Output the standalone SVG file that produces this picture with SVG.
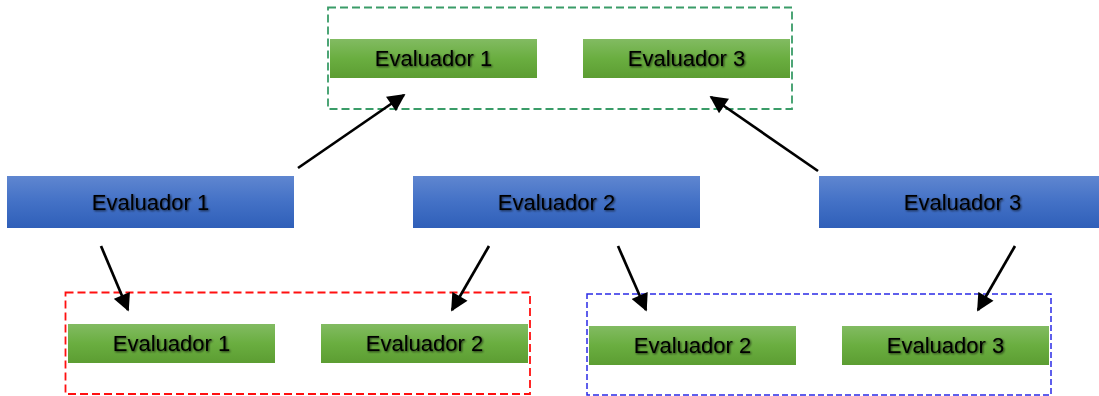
<svg xmlns="http://www.w3.org/2000/svg" width="1099" height="396" viewBox="0 0 1099 396">
<style>
.lbl{font-family:"Liberation Sans",Arial,sans-serif;font-size:22px;fill:#000;text-anchor:middle;dominant-baseline:central;filter:url(#glow)}
.conn{stroke:#000;stroke-width:2.7;fill:none;marker-end:url(#ah)}
.g{fill:url(#gGreen)}
.b{fill:url(#gBlue)}
</style>
<defs>
<linearGradient id="gGreen" x1="0" y1="0" x2="0" y2="1">
<stop offset="0" stop-color="#82bb62"/>
<stop offset="0.5" stop-color="#6aae40"/>
<stop offset="1" stop-color="#5c9d32"/>
</linearGradient>
<linearGradient id="gBlue" x1="0" y1="0" x2="0" y2="1">
<stop offset="0" stop-color="#5f86d0"/>
<stop offset="0.5" stop-color="#4371c6"/>
<stop offset="1" stop-color="#2f5fb9"/>
</linearGradient>
<filter id="glow" x="-10%" y="-30%" width="120%" height="160%">
<feGaussianBlur in="SourceAlpha" stdDeviation="1.2" result="b"/>
<feOffset in="b" dx="0.8" dy="0.8" result="o"/>
<feComponentTransfer in="o" result="s"><feFuncA type="linear" slope="0.7"/></feComponentTransfer>
<feMerge><feMergeNode in="s"/><feMergeNode in="SourceGraphic"/></feMerge>
</filter>
<marker id="ah" viewBox="0 0 10 10" refX="9" refY="5" markerWidth="7" markerHeight="6.5" markerUnits="strokeWidth" orient="auto">
<path d="M0,0 L10,5 L0,10 Z" fill="#000"/>
</marker>
</defs>
<g id="groups">
<rect id="grpTop" x="328" y="7.5" width="464" height="101.5" fill="none" stroke="#3a9c68" stroke-width="1.8" stroke-dasharray="8,4"/>
<rect id="grpRed" x="65.5" y="292.5" width="464.5" height="101.5" fill="none" stroke="#ff1010" stroke-width="1.8" stroke-dasharray="8,4"/>
<rect id="grpBlue" x="587" y="294" width="464" height="101" fill="none" stroke="#2a2ae6" stroke-width="1.5" stroke-dasharray="6,3"/>
</g>
<g id="nodeTop1"><rect class="g" x="330" y="39" width="207" height="39"/><text class="lbl" x="433.5" y="58.5">Evaluador 1</text></g>
<g id="nodeTop3"><rect class="g" x="583" y="39" width="207" height="39"/><text class="lbl" x="686.5" y="58.5">Evaluador 3</text></g>
<g id="nodeMid1"><rect class="b" x="7" y="176" width="287" height="52"/><text class="lbl" x="150.5" y="202">Evaluador 1</text></g>
<g id="nodeMid2"><rect class="b" x="413" y="176" width="287" height="52"/><text class="lbl" x="556.5" y="202">Evaluador 2</text></g>
<g id="nodeMid3"><rect class="b" x="819" y="176" width="287" height="52"/><text class="lbl" x="962.5" y="202">Evaluador 3</text></g>
<g id="nodeRed1"><rect class="g" x="68" y="324" width="207" height="39"/><text class="lbl" x="171.5" y="343.5">Evaluador 1</text></g>
<g id="nodeRed2"><rect class="g" x="321" y="324" width="207" height="39"/><text class="lbl" x="424.5" y="343.5">Evaluador 2</text></g>
<g id="nodeBlue2"><rect class="g" x="589" y="326" width="207" height="39"/><text class="lbl" x="692.5" y="345.5">Evaluador 2</text></g>
<g id="nodeBlue3"><rect class="g" x="842" y="326" width="207" height="39"/><text class="lbl" x="945.5" y="345.5">Evaluador 3</text></g>
<g id="connectors">
<line class="conn" x1="298" y1="168" x2="404" y2="95"/>
<line class="conn" x1="818" y1="171" x2="711" y2="97"/>
<line class="conn" x1="101" y1="246" x2="128" y2="310"/>
<line class="conn" x1="489" y1="246" x2="452" y2="310"/>
<line class="conn" x1="618" y1="246" x2="646" y2="310"/>
<line class="conn" x1="1015" y1="246" x2="978" y2="310"/>
</g>
</svg>
